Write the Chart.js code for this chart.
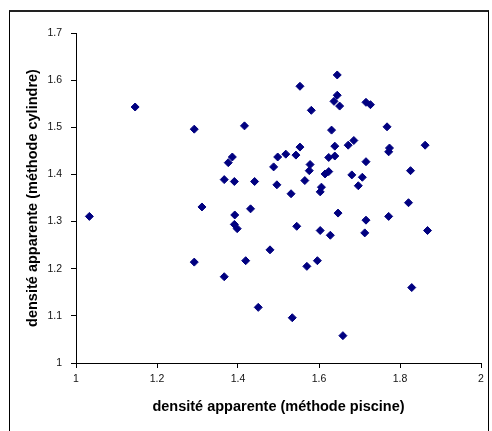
<!DOCTYPE html>
<html>
<head>
<meta charset="utf-8">
<script src="https://cdn.jsdelivr.net/npm/chart.js@4"></script>
<style>
  html, body { margin: 0; padding: 0; background: #fff; }
  #wrap { position: relative; width: 492px; height: 431px; overflow: hidden; }
  #c { position: absolute; left: 0; top: 0; }
  #frame { position: absolute; left: 9px; top: 10px; width: 480px; height: 440px;
           border: 1px solid #000; border-top: 2px solid #222; box-sizing: border-box; pointer-events: none; }
</style>
</head>
<body>
<div id="wrap">
  <canvas id="c" width="492" height="431"></canvas>
  <div id="frame"></div>
</div>
<script>
// densité apparente (méthode piscine)
const xPiscine = [
  1.146, 1.292, 1.416, 1.376, 1.386, 1.366, 1.391, 1.311, 1.033, 1.392,
  1.431, 1.391, 1.398, 1.292, 1.419, 1.366, 1.821, 1.647, 1.716, 1.772,
  1.545, 1.603, 1.628, 1.713, 1.868, 1.479, 1.570, 1.596, 1.829, 1.450,
  1.534, 1.659, 1.645, 1.553, 1.645, 1.637, 1.651, 1.716, 1.727, 1.581,
  1.768, 1.631, 1.686, 1.672, 1.862, 1.639, 1.774, 1.772, 1.553, 1.518,
  1.543, 1.498, 1.624, 1.639, 1.716, 1.488, 1.578, 1.576, 1.826, 1.624,
  1.615, 1.681, 1.707, 1.441, 1.496, 1.565, 1.697, 1.606, 1.603, 1.531
];
// densité apparente (méthode cylindre)
const yCylindre = [
  1.543, 1.496, 1.503, 1.425, 1.437, 1.389, 1.385, 1.331, 1.311, 1.314,
  1.327, 1.294, 1.285, 1.214, 1.217, 1.183, 1.340, 1.318, 1.303, 1.311,
  1.290, 1.281, 1.271, 1.276, 1.281, 1.240, 1.205, 1.217, 1.160, 1.118,
  1.096, 1.058, 1.611, 1.587, 1.568, 1.555, 1.545, 1.553, 1.548, 1.536,
  1.501, 1.494, 1.472, 1.462, 1.462, 1.460, 1.456, 1.448, 1.458, 1.443,
  1.441, 1.437, 1.436, 1.439, 1.427, 1.416, 1.421, 1.408, 1.408, 1.406,
  1.401, 1.399, 1.394, 1.385, 1.378, 1.387, 1.376, 1.373, 1.363, 1.359
];
const xTitle = 'densité apparente (méthode piscine)';
const yTitle = 'densité apparente (méthode cylindre)';
const xRange = [1, 2, 0.2];
const yRange = [1, 1.7, 0.1];

const points = xPiscine.map((x, i) => ({ x: x, y: yCylindre[i] }));
const FONT = "'Liberation Sans', Arial, sans-serif";
const fmt = (v) => String(Math.round(v * 10) / 10);

new Chart(document.getElementById('c'), {
  type: 'scatter',
  data: {
    datasets: [{
      data: points,
      pointStyle: 'rectRot',
      pointRadius: 4,
      pointBorderWidth: 1,
      backgroundColor: '#000080',
      borderColor: '#000080'
    }]
  },
  options: {
    responsive: false,
    animation: false,
    layout: { padding: { top: 33, right: 11, left: 0, bottom: 0 } },
    plugins: { legend: { display: false }, tooltip: { enabled: false } },
    scales: {
      x: {
        type: 'linear', min: xRange[0], max: xRange[1],
        ticks: { stepSize: xRange[2], callback: fmt, color: '#111', font: { family: FONT, size: 10.5 }, padding: 5, maxRotation: 0 },
        grid: { drawOnChartArea: false, drawTicks: true, tickLength: 5, color: '#000' },
        border: { display: true, color: '#000', width: 1 },
        title: { display: true, text: xTitle, color: '#000', font: { family: FONT, size: 14.5, weight: 'bold' }, padding: { top: 0, bottom: 15.3 } },
        afterFit: (s) => { s.height = 68; }
      },
      y: {
        type: 'linear', min: yRange[0], max: yRange[1],
        ticks: { stepSize: yRange[2], callback: fmt, color: '#111', font: { family: FONT, size: 10.5 }, padding: 9 },
        grid: { drawOnChartArea: false, drawTicks: true, tickLength: 5, color: '#000' },
        border: { display: true, color: '#000', width: 1 },
        title: { display: true, text: yTitle, color: '#000', font: { family: FONT, size: 14.5, weight: 'bold' }, padding: { top: 24.3, bottom: 0 } },
        afterFit: (s) => { s.width = 76; }
      }
    }
  }
});
</script>
</body>
</html>
